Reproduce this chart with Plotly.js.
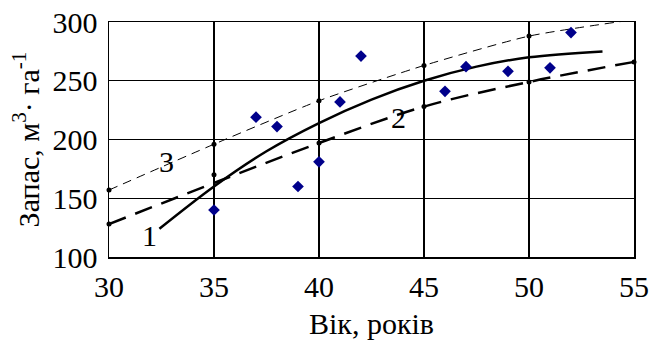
<!DOCTYPE html>
<html>
<head>
<meta charset="utf-8">
<script src="https://cdn.plot.ly/plotly-3.0.1.min.js"></script>
<style>html,body{margin:0;padding:0;background:#fff;}#chart{width:660px;height:340px;}</style>
</head>
<body>
<div id="chart"></div>
<script>
// Observed stands (age, stock)
const obsAge = [35, 37, 38, 39, 40, 41, 42, 46, 47, 49, 51, 52];
const obsStock = [140, 219, 211, 160, 181, 232, 271, 241, 262, 258, 261, 291];

// Curve 1 (solid)
const c1Age = [32.4, 35, 37.5, 40, 42.5, 45, 47.5, 50, 53.5];
const c1Stock = [124, 160, 190, 214, 234, 250, 262, 270, 275];

// Curve 2 (thick dashed)
const c2Age = [30, 35, 40, 45, 50, 55];
const c2Stock = [128, 163, 197, 228, 249, 266];
const c2DotStock = [128, 170, 197, 228, 249, 266];

// Curve 3 (thin dashed)
const c3Age = [30, 35, 40, 45, 50, 55];
const c3Stock = [157, 196, 233, 263, 288, 302];

// Curve labels
const labelText = ['1', '2', '3'];
const labelAge = [31.95, 43.8, 32.75];
const labelStock = [118, 219, 181];

const xTicks = [30, 35, 40, 45, 50, 55];
const yTicks = [100, 150, 200, 250, 300];

const font = 'Liberation Serif, serif';

const traces = [
  {x: c3Age, y: c3Stock, mode: 'lines+markers', line: {color: '#000', width: 1, dash: '9px,6px', shape: 'spline', smoothing: 0.6},
   marker: {color: '#000', size: 5}, cliponaxis: false, hoverinfo: 'skip'},
  {x: c2Age, y: c2Stock, mode: 'lines', line: {color: '#000', width: 2.5, dash: '18px,10px', shape: 'spline'}, hoverinfo: 'skip'},
  {x: c2Age, y: c2DotStock, mode: 'markers', marker: {color: '#000', size: 5}, cliponaxis: false, hoverinfo: 'skip'},
  {x: c1Age, y: c1Stock, mode: 'lines', line: {color: '#000', width: 2.5, shape: 'spline'}, hoverinfo: 'skip'},
  {x: obsAge, y: obsStock, mode: 'markers', marker: {color: '#00008b', size: 9, symbol: 'diamond'}, cliponaxis: false, hoverinfo: 'skip'}
];

const annotations = labelText.map((t, i) => ({
  x: labelAge[i], y: labelStock[i], xref: 'x', yref: 'y', text: t, showarrow: false,
  font: {family: font, size: 30, color: '#000'}
}));

const layout = {
  width: 660, height: 340,
  margin: {l: 109, r: 26, t: 22, b: 83},
  paper_bgcolor: '#fff', plot_bgcolor: '#fff',
  showlegend: false,
  font: {family: font, size: 30, color: '#000'},
  xaxis: {
    range: [30, 55], tickvals: xTicks, ticktext: xTicks.map(String),
    tickfont: {family: font, size: 30, color: '#000'},
    showgrid: true, gridcolor: '#000', gridwidth: 1.2,
    showline: true, linecolor: '#000', linewidth: 1.5, mirror: true,
    ticks: '', zeroline: false, ticklabelstandoff: 2,
    title: {text: 'Вік, років', font: {family: font, size: 30, color: '#000'}}
  },
  yaxis: {
    range: [100, 300], tickvals: yTicks, ticktext: yTicks.map(String),
    tickfont: {family: font, size: 30, color: '#000'},
    showgrid: true, gridcolor: '#000', gridwidth: 1.2,
    showline: true, linecolor: '#000', linewidth: 1.5, mirror: true,
    ticks: '', zeroline: false, ticklabelstandoff: 4,
    title: {text: 'Запас, м<sup>3</sup>· га<sup>-1</sup>', font: {family: font, size: 30, color: '#000'}}
  },
  annotations: annotations
};

Plotly.newPlot('chart', traces, layout, {displayModeBar: false, staticPlot: true});
</script>
</body>
</html>
